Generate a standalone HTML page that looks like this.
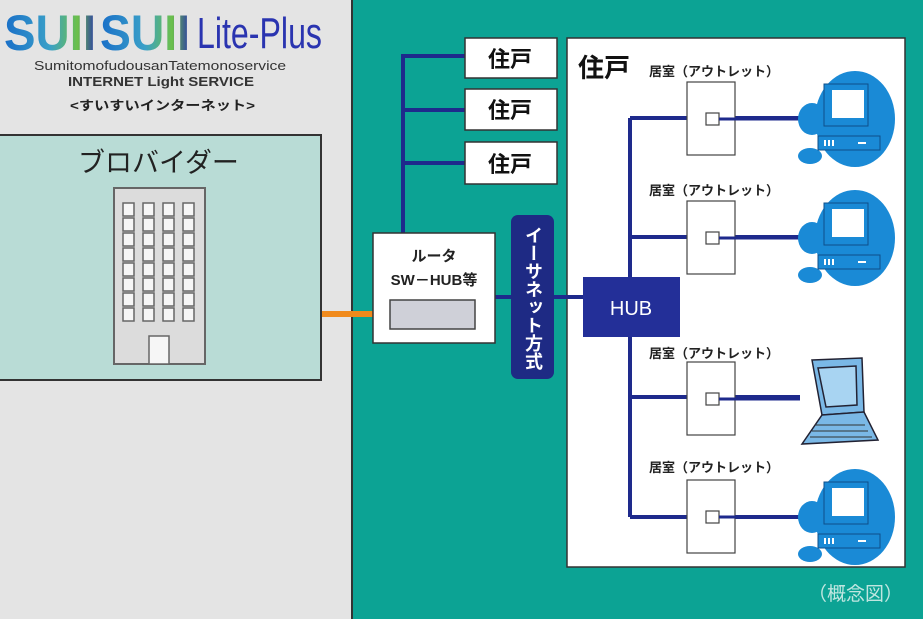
<!DOCTYPE html>
<html><head><meta charset="utf-8"><style>
html,body{margin:0;padding:0;background:#e4e4e4;}
svg{display:block}
text{font-family:"Liberation Sans","Noto Sans CJK JP",sans-serif;}
</style></head><body>
<svg width="923" height="619" viewBox="0 0 923 619" xmlns="http://www.w3.org/2000/svg">
<defs>
<linearGradient id="lg" x1="0" y1="0" x2="1" y2="0"><stop offset="0" stop-color="#1a6fc8"/><stop offset="0.5" stop-color="#3aa0c8"/><stop offset="0.8" stop-color="#6cc04a"/><stop offset="1" stop-color="#2a3aa8"/></linearGradient>
<g id="pc">
<ellipse cx="55" cy="45" rx="40" ry="48" fill="#1a8ad6"/>
<ellipse cx="12" cy="45" rx="14" ry="16" fill="#1a8ad6"/>
<ellipse cx="10" cy="82" rx="12" ry="8" fill="#1a8ad6"/>
<rect x="24" y="10" width="44" height="42" fill="#1a8ad6" stroke="#0d4f8a" stroke-width="1"/>
<rect x="32" y="16" width="32" height="28" fill="#fff"/>
<rect x="18" y="62" width="62" height="14" fill="#1a8ad6" stroke="#0d4f8a" stroke-width="1"/>
<rect x="24" y="66" width="2" height="6" fill="#fff"/><rect x="28" y="66" width="2" height="6" fill="#fff"/><rect x="32" y="66" width="2" height="6" fill="#fff"/>
<rect x="58" y="68" width="8" height="2" fill="#fff"/>
</g>
</defs>
<rect width="923" height="619" fill="#e4e4e4"/>
<!-- logo -->
<text x="4" y="50" font-size="50" font-weight="bold" fill="url(#lg)" textLength="92" lengthAdjust="spacingAndGlyphs">SUII</text>
<text x="100" y="50" font-size="50" font-weight="bold" fill="url(#lg)" textLength="90" lengthAdjust="spacingAndGlyphs">SUII</text>
<text x="197" y="48" font-size="44" fill="#2a34b0" textLength="125" lengthAdjust="spacingAndGlyphs">Lite-Plus</text>
<text x="34" y="70" font-size="13" fill="#333" textLength="252" lengthAdjust="spacingAndGlyphs">SumitomofudousanTatemonoservice</text>
<text x="68" y="86" font-size="13" fill="#333" font-weight="bold" textLength="186" lengthAdjust="spacingAndGlyphs">INTERNET Light SERVICE</text>
<text x="70" y="110" font-size="13" fill="#222" font-weight="bold" textLength="185" lengthAdjust="spacingAndGlyphs">&lt;すいすいインターネット&gt;</text>
<!-- provider -->
<rect x="-2" y="135" width="323" height="245" fill="#b9dcd6" stroke="#333" stroke-width="2"/>
<text x="78" y="172" font-size="27" fill="#222">ブロバイダー</text>
<rect x="114" y="188" width="91" height="176" fill="#dcdcdc" stroke="#666" stroke-width="2"/>
<g fill="#f6f6f6" stroke="#666" stroke-width="1.5">
<g id="col"><rect x="123" y="203" width="11" height="13"/><rect x="123" y="218" width="11" height="13"/><rect x="123" y="233" width="11" height="13"/><rect x="123" y="248" width="11" height="13"/><rect x="123" y="263" width="11" height="13"/><rect x="123" y="278" width="11" height="13"/><rect x="123" y="293" width="11" height="13"/><rect x="123" y="308" width="11" height="13"/></g>
<use href="#col" x="20"/><use href="#col" x="40"/><use href="#col" x="60"/>
<rect x="149" y="336" width="20" height="28"/>
</g>
<!-- teal panel -->
<rect x="352" y="-2" width="573" height="623" fill="#0ca394" stroke="#333" stroke-width="2"/>
<rect x="567" y="38" width="338" height="529" fill="#fff" stroke="#333" stroke-width="1.5"/>
<!-- orange -->
<rect x="322" y="311" width="70" height="6" fill="#f08a1c"/>
<!-- lines -->
<g stroke="#1e2a8c" stroke-width="4" fill="none">
<path d="M403 233V56H465M403 110H465M403 163H465"/>
<path d="M495 297H585"/>
<path d="M630 118V517M630 118H800M630 237H800M630 397H800M630 517H800"/>
</g>
<g fill="#fff" stroke="#333" stroke-width="1.5">
<rect x="465" y="38" width="92" height="40"/>
<rect x="465" y="89" width="92" height="41"/>
<rect x="465" y="142" width="92" height="42"/>
</g>
<g font-size="22" font-weight="bold" fill="#111"><text x="488" y="67">住戸</text><text x="488" y="118">住戸</text><text x="488" y="172">住戸</text></g>
<!-- router -->
<rect x="373" y="233" width="122" height="110" fill="#fff" stroke="#333" stroke-width="1.5"/>
<text x="434" y="261" font-size="15" font-weight="bold" fill="#222" text-anchor="middle">ルータ</text>
<text x="434" y="285" font-size="15" font-weight="bold" fill="#222" text-anchor="middle">SW－HUB等</text>
<rect x="390" y="300" width="85" height="29" fill="#cfd0d8" stroke="#444" stroke-width="1.5"/>
<!-- ethernet pill -->
<rect x="511" y="215" width="43" height="164" rx="7" fill="#1e2a84"/>
<text x="533" y="226" font-size="18" font-weight="bold" fill="#fff" writing-mode="tb" textLength="144" lengthAdjust="spacingAndGlyphs">イーサネット方式</text>
<!-- hub -->
<rect x="583" y="277" width="97" height="60" fill="#232f98"/>
<text x="631" y="315" font-size="20" fill="#fff" text-anchor="middle">HUB</text>
<text x="578" y="77" font-size="26" font-weight="bold" fill="#111">住戸</text>
<!-- outlets -->
<g font-size="13" font-weight="bold" fill="#222">
<text x="649" y="76">居室（アウトレット）</text>
<text x="649" y="195">居室（アウトレット）</text>
<text x="649" y="358">居室（アウトレット）</text>
<text x="649" y="472">居室（アウトレット）</text>
</g>
<g fill="#fff" stroke="#444" stroke-width="1.2">
<rect x="687" y="82" width="48" height="73"/><rect x="706" y="113" width="13" height="12"/>
<rect x="687" y="201" width="48" height="73"/><rect x="706" y="232" width="13" height="12"/>
<rect x="687" y="362" width="48" height="73"/><rect x="706" y="393" width="13" height="12"/>
<rect x="687" y="480" width="48" height="73"/><rect x="706" y="511" width="13" height="12"/>
</g>
<g stroke="#1e2a8c" stroke-width="3"><path d="M719 119H800M719 238H800M719 399H800M719 517H800"/></g>
<use href="#pc" x="800" y="74"/>
<use href="#pc" x="800" y="193"/>
<use href="#pc" x="800" y="472"/>
<!-- laptop -->
<g stroke="#223" stroke-width="1.5">
<path d="M812 360L862 358L864 412L822 415Z" fill="#7ab8e6"/>
<path d="M818 368L856 366L857 405L826 407Z" fill="#a8d4f2"/>
<path d="M822 415L864 412L878 440L802 444Z" fill="#7ab8e6"/>
</g>
<g stroke="#333" stroke-width="1"><path d="M815 425H865M812 431H868M810 437H872"/></g>
<text x="808" y="600" font-size="19" fill="#bfe6e0">（概念図）</text>
</svg>
</body></html>
